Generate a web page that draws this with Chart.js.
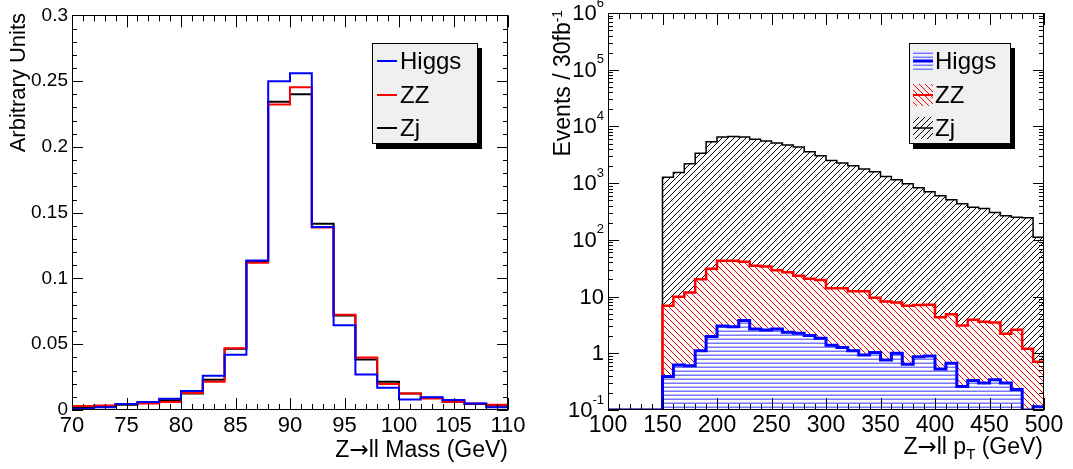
<!DOCTYPE html>
<html>
<head>
<meta charset="utf-8">
<script src="https://cdn.jsdelivr.net/npm/chart.js@4.4.1/dist/chart.umd.min.js"></script>
<style>
  html, body { margin: 0; padding: 0; background: #fff; }
  #page { position: relative; width: 1073px; height: 469px; overflow: hidden;
          font-family: 'Liberation Sans', Arial, sans-serif; color: #000; }
  canvas { position: absolute; top: 0; }
  .ytitle { position: absolute; white-space: nowrap; text-align: right;
            transform-origin: 0 0; transform: rotate(-90deg); }
  .xtitle { position: absolute; white-space: nowrap; text-align: right; left: 0; }
  .arrow { font-family: 'DejaVu Sans', sans-serif; }
  .legend { position: absolute; background: #f0f0f0; border: 1px solid #000;
            box-sizing: border-box; box-shadow: 4px 5px 0 #000; }
  .entry { position: absolute; left: 0; height: 30px; font-size: 24px; line-height: 30px; }
  .entry span { position: absolute; white-space: nowrap; }
  .entry canvas { position: absolute; }
  sup { font-size: 60%; vertical-align: 0.55em; line-height: 0; }
  sub { font-size: 65%; vertical-align: -0.35em; line-height: 0; }
</style>
</head>
<body>
<div id="page">
  <canvas id="massChart" width="536" height="469" style="left:0"></canvas>
  <canvas id="ptChart" width="537" height="469" style="left:536px"></canvas>

  <div class="ytitle" style="left:5px; top:213px; width:200px; font-size:22px; line-height:26px;">Arbitrary Units</div>
  <div class="xtitle" style="width:508px; top:436px; font-size:23px; line-height:26px;">Z<span class="arrow">→</span>ll Mass (GeV)</div>
  <div class="ytitle" style="left:549px; top:260px; width:250px; font-size:23px; line-height:26px;">Events / 30fb<sup>-1</sup></div>
  <div class="xtitle" style="width:1043px; top:433px; font-size:23px; line-height:26px;">Z<span class="arrow">→</span>ll p<sub>T</sub> (GeV)</div>

  <div class="legend" id="massLegend" style="left:372px; top:43px; width:106px; height:101px;"></div>
  <div class="legend" id="ptLegend" style="left:909px; top:43px; width:102px; height:101px;"></div>
</div>

<script>
// ---- data: Z->ll mass (2 GeV bins, normalised) ----
const massEdges = [70, 72, 74, 76, 78, 80, 82, 84, 86, 88, 90, 92, 94, 96, 98, 100, 102, 104, 106, 108, 110];
const massHiggs = [0.001, 0.002, 0.0045, 0.006, 0.0085, 0.0145, 0.026, 0.042, 0.1137, 0.250,
                   0.256, 0.1392, 0.0645, 0.027, 0.017, 0.008, 0.0096, 0.0076, 0.005, 0.002];
const massZZ    = [0.003, 0.0035, 0.0045, 0.005, 0.006, 0.013, 0.0215, 0.047, 0.112, 0.2322,
                   0.2453, 0.1387, 0.0724, 0.040, 0.0197, 0.0126, 0.0088, 0.0063, 0.005, 0.004];
const massZj    = [0.002, 0.0025, 0.004, 0.0055, 0.0075, 0.0125, 0.023, 0.0465, 0.113, 0.2344,
                   0.240, 0.1416, 0.0718, 0.0383, 0.0214, 0.0126, 0.0093, 0.0063, 0.0045, 0.0035];

// ---- data: Z->ll pT (10 GeV bins, events / 30 fb^-1, stacked totals) ----
const ptEdges = [100, 110, 120, 130, 140, 150, 160, 170, 180, 190, 200, 210, 220, 230, 240, 250, 260, 270, 280, 290,
                 300, 310, 320, 330, 340, 350, 360, 370, 380, 390, 400, 410, 420, 430, 440, 450, 460, 470, 480, 490, 500];
const ptHiggs = [0, 0, 0, 0, 0, 0.39, 0.62, 0.60, 1.11, 1.97,
                 3.04, 2.95, 3.77, 2.69, 2.58, 2.69, 2.35, 2.25, 2.05, 1.84,
                 1.38, 1.26, 1.11, 0.93, 1.03, 0.76, 1.0, 0.64, 0.87, 0.90,
                 0.53, 0.67, 0.26, 0.33, 0.30, 0.34, 0.30, 0.23, 0, 0.114];
const ptZZ    = [0, 0, 0, 0, 0, 6.9, 9.9, 11.8, 20.2, 31,
                 42.6, 42.6, 41, 35, 33.8, 29, 26.8, 23.3, 20.6, 19.6,
                 14.0, 14.0, 12.4, 12.4, 9.5, 8.2, 7.9, 6.9, 7.1, 7.2,
                 4.3, 4.9, 3.1, 3.9, 3.6, 3.5, 2.2, 2.6, 1.2, 0.71];
const ptZj    = [0, 0, 0, 0, 0, 1276, 1540, 2190, 3380, 5360,
                 6480, 6660, 6480, 5970, 5510, 5080, 4690, 4320, 3570, 3040,
                 2510, 2260, 2020, 1770, 1590, 1310, 1150, 973, 827, 703,
                 598, 508, 432, 377, 357, 303, 265, 251, 245, 111];

// ---- axis tick labels ----
const massYTickLabels = ['0', '0.05', '0.1', '0.15', '0.2', '0.25', '0.3'];
const logTickValues = [0.1, 1, 10, 100, 1000, 10000, 100000, 1000000];
const logTickBases  = ['10', '1', '10', '10', '10', '10', '10', '10'];
const logTickExps   = ['-1', '', '', '2', '3', '4', '5', '6'];

const seriesNames = ['Higgs', 'ZZ', 'Zj'];
const lineColors = ['#0000ff', '#ff0000', '#000000'];

Chart.defaults.font.family = "'Liberation Sans', Arial, sans-serif";
Chart.defaults.color = '#000';

/**
 * Turn bin edges + contents into points for a stepped line
 */
function stepPoints(edges, values, floor) {
    const pts = values.map((v, i) => ({ x: edges[i], y: floor ? Math.max(v, floor) : v }));
    pts.push({ x: edges[edges.length - 1], y: pts[pts.length - 1].y });
    return pts;
}

/**
 * Small tiled hatch pattern, ROOT style
 */
function hatch(kind, color, soft) {
    const c = document.createElement('canvas');
    if (kind === '-') {
        c.width = 4; c.height = 4;
    } else {
        c.width = 6; c.height = 6;
    }
    const g = c.getContext('2d');
    if (kind === '-') {
        // soft anti-aliased looking horizontal line
        g.fillStyle = soft;
        g.fillRect(0, 2, 4, 1);
        g.fillStyle = color;
        g.fillRect(0, 3, 4, 1);
    } else {
        g.fillStyle = color;
        for (let i = 0; i < 6; i++) g.fillRect(i, kind === '/' ? 5 - i : i, 1, 1);
    }
    return g.createPattern(c, 'repeat');
}

const fills = [hatch('-', 'rgb(120,120,255)', 'rgb(185,185,255)'), hatch('\\', '#ff0000'), hatch('/', '#000000')];

// frame + inward ticks on all four sides, plus log labels with exponents
const rootFrame = {
    id: 'rootFrame',
    afterDatasetsDraw(chart, args, o) {
        const { ctx, chartArea: a } = chart;
        const xs = chart.scales.x, ys = chart.scales.y;
        ctx.save();
        ctx.strokeStyle = '#000';
        ctx.lineWidth = 1;
        ctx.beginPath();

        const nx = Math.round((o.xMax - o.xMin) / o.xMinor);
        const per = Math.round(o.xMajor / o.xMinor);
        for (let i = 0; i <= nx; i++) {
            const len = i % per === 0 ? o.xMajorLen : o.xMinorLen;
            const px = Math.round(xs.getPixelForValue(o.xMin + i * o.xMinor)) + 0.5;
            ctx.moveTo(px, a.bottom); ctx.lineTo(px, a.bottom - len);
            ctx.moveTo(px, a.top); ctx.lineTo(px, a.top + len);
        }

        const yTicks = [];
        if (o.log) {
            for (let e = -1; e < 6; e++) {
                for (let m = 1; m < 10; m++) yTicks.push([m * Math.pow(10, e), m === 1]);
            }
            yTicks.push([1e6, true]);
        } else {
            const ny = Math.round((o.yMax - o.yMin) / o.yMinor);
            const pery = Math.round(o.yMajor / o.yMinor);
            for (let i = 0; i <= ny; i++) yTicks.push([o.yMin + i * o.yMinor, i % pery === 0]);
        }
        yTicks.forEach(([v, major]) => {
            const len = major ? o.yMajorLen : o.yMinorLen;
            const py = Math.round(ys.getPixelForValue(v)) + 0.5;
            ctx.moveTo(a.left, py); ctx.lineTo(a.left + len, py);
            ctx.moveTo(a.right, py); ctx.lineTo(a.right - len, py);
        });
        ctx.stroke();
        ctx.strokeRect(Math.round(a.left) + 0.5, Math.round(a.top) + 0.5,
                       Math.round(a.width) - 1, Math.round(a.height) - 1);
        ctx.restore();
    },
    afterDraw(chart, args, o) {
        if (!o.log) return;
        const { ctx, chartArea: a } = chart;
        const ys = chart.scales.y;
        ctx.save();
        ctx.fillStyle = '#000';
        ctx.textAlign = 'right';
        ctx.textBaseline = 'middle';
        logTickValues.forEach((v, i) => {
            const py = ys.getPixelForValue(v);
            let xr = a.left - 4;
            if (logTickExps[i]) {
                ctx.font = "13px 'Liberation Sans', Arial, sans-serif";
                ctx.fillText(logTickExps[i], xr, py - 10);
                xr -= ctx.measureText(logTickExps[i]).width;
            }
            ctx.font = "22px 'Liberation Sans', Arial, sans-serif";
            ctx.fillText(logTickBases[i], xr, py + 1);
        });
        ctx.restore();
    }
};

// ---- left: mass distributions ----
new Chart(document.getElementById('massChart'), {
    type: 'line',
    data: {
        datasets: [massHiggs, massZZ, massZj].map((vals, i) => ({
            label: seriesNames[i],
            data: stepPoints(massEdges, vals),
            borderColor: lineColors[i],
            borderWidth: 2,
            stepped: true,
            pointRadius: 0,
            fill: false
        }))
    },
    options: {
        responsive: false,
        animation: false,
        devicePixelRatio: 1,
        layout: { padding: { top: 13, right: 28, bottom: 0, left: 0 } },
        plugins: {
            legend: { display: false },
            tooltip: { enabled: false },
            rootFrame: { xMin: 70, xMax: 110, xMajor: 5, xMinor: 1, xMajorLen: 12, xMinorLen: 6,
                         yMin: 0, yMax: 0.3, yMajor: 0.05, yMinor: 0.01, yMajorLen: 11, yMinorLen: 5 }
        },
        scales: {
            x: {
                type: 'linear', min: 70, max: 110,
                grid: { display: false, drawTicks: false }, border: { display: false },
                ticks: { stepSize: 5, padding: 3, font: { size: 22 }, maxRotation: 0 },
                afterFit: (s) => { s.height = 59; }
            },
            y: {
                min: 0, max: 0.3,
                grid: { display: false, drawTicks: false }, border: { display: false },
                ticks: {
                    stepSize: 0.05, padding: 4, font: { size: 19 },
                    callback: (v, i) => massYTickLabels[i]
                },
                afterFit: (s) => { s.width = 72; }
            }
        }
    },
    plugins: [rootFrame]
});

// ---- right: pT, hatched stack on log scale ----
new Chart(document.getElementById('ptChart'), {
    type: 'line',
    data: {
        datasets: [ptHiggs, ptZZ, ptZj].map((vals, i) => ({
            label: seriesNames[i],
            data: stepPoints(ptEdges, vals, 0.1),
            borderColor: lineColors[i],
            borderWidth: [3, 2.5, 1.5][i],
            backgroundColor: fills[i],
            stepped: true,
            pointRadius: 0,
            fill: i === 0 ? 'start' : { target: i - 1 }
        }))
    },
    options: {
        responsive: false,
        animation: false,
        devicePixelRatio: 1,
        layout: { padding: { top: 13, right: 29, bottom: 0, left: 0 } },
        plugins: {
            legend: { display: false },
            tooltip: { enabled: false },
            filler: { propagate: false },
            rootFrame: { log: true, xMin: 100, xMax: 500, xMajor: 50, xMinor: 10, xMajorLen: 12, xMinorLen: 6,
                         yMajorLen: 11, yMinorLen: 5 }
        },
        scales: {
            x: {
                type: 'linear', min: 100, max: 500,
                grid: { display: false, drawTicks: false }, border: { display: false },
                ticks: { stepSize: 50, padding: 2, font: { size: 23 }, maxRotation: 0 },
                afterFit: (s) => { s.height = 59; }
            },
            y: {
                type: 'logarithmic', min: 0.1, max: 1e6,
                grid: { display: false, drawTicks: false }, border: { display: false },
                ticks: { display: false },
                afterFit: (s) => { s.width = 72; }
            }
        }
    },
    plugins: [rootFrame]
});

// ---- legends (HTML text, small canvas swatches) ----
function buildLegend(id, rows, opts) {
    const box = document.getElementById(id);
    rows.forEach((name, i) => {
        const row = document.createElement('div');
        row.className = 'entry';
        row.style.top = (opts.rowTop[i] - 15) + 'px';
        row.style.width = '100%';
        const sw = document.createElement('canvas');
        sw.width = opts.swW; sw.height = opts.swH;
        sw.style.left = opts.swX + 'px';
        sw.style.top = (15 - opts.swH / 2) + 'px';
        const g = sw.getContext('2d');
        if (opts.hatched) {
            g.fillStyle = fills[i];
            g.fillRect(0, 0, opts.swW, opts.swH);
        }
        g.strokeStyle = lineColors[i];
        g.lineWidth = opts.hatched ? [3, 2, 1.5][i] : 2;
        g.beginPath();
        g.moveTo(0, opts.swH / 2); g.lineTo(opts.swW, opts.swH / 2);
        g.stroke();
        row.appendChild(sw);
        const t = document.createElement('span');
        t.textContent = name;
        t.style.left = opts.textX + 'px';
        row.appendChild(t);
        box.appendChild(row);
    });
}

buildLegend('massLegend', seriesNames, { rowTop: [17, 51, 84], swX: 4, swW: 20, swH: 4, textX: 27 });
buildLegend('ptLegend', seriesNames, { rowTop: [17, 51, 84], swX: 3, swW: 20, swH: 22, textX: 25, hatched: true });
</script>
</body>
</html>
